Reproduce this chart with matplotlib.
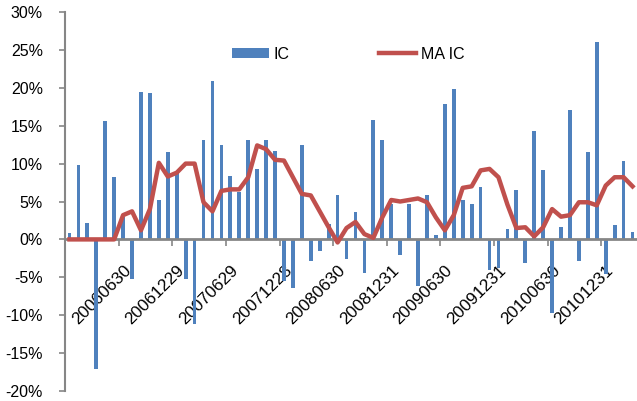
import matplotlib
matplotlib.use("Agg")
import matplotlib.pyplot as plt
from matplotlib.ticker import FixedLocator, FuncFormatter

plt.rcParams['font.family'] = ['Liberation Sans', 'DejaVu Sans']

ic_values = [0.8, 9.85, 2.1, -17.1, 15.6, 8.2, 3.0, -5.2, 19.5, 19.3,
             5.2, 11.5, 8.8, -5.2, -11.1, 13.1, 20.9, 12.4, 8.4, 6.3,
             13.1, 9.3, 13.1, 11.6, -5.5, -6.4, 12.4, -2.9, -1.5, 2.0,
             5.9, -2.6, 3.6, -4.4, 15.7, 13.1, 4.7, -2.1, 4.7, -6.2,
             5.9, 0.6, 17.8, 19.8, 5.2, 4.7, 6.9, -4.0, -3.8, 1.4,
             6.5, -3.1, 14.3, 9.1, -9.7, 1.7, 17.1, -2.9, 11.5, 26.1,
             -4.6, 1.9, 10.4, 1.0]
ma_values = [0, 0, 0, 0, 0, 0, 3.2, 3.7, 1.2, 4.0,
             10.1, 8.3, 8.8, 10.0, 10.0, 4.9, 3.7, 6.4, 6.6, 6.6,
             8.2, 12.4, 11.9, 10.5, 10.4, 8.2, 6.0, 5.8, 3.7, 1.6,
             -0.4, 1.5, 2.3, 0.7, 0.2, 2.9, 5.2, 5.0, 5.2, 5.4,
             4.9, 2.9, 1.2, 3.2, 6.8, 7.0, 9.1, 9.3, 8.2, 4.6,
             1.5, 1.6, 0.4, 1.6, 4.0, 3.0, 3.2, 4.9, 4.9, 4.5,
             7.1, 8.2, 8.2, 7.0]
tick_labels = ['20060630', '20061229', '20070629', '20071228', '20080630',
               '20081231', '20090630', '20091231', '20100630', '20101231']
label_index = [6, 12, 18, 24, 30, 36, 42, 48, 54, 60]

BLUE = '#4F81BD'
RED = '#C0504D'
GRAY = '#868686'
FS = 11.5

W, H = 637, 401
fig = plt.figure(figsize=(W / 100, H / 100), dpi=100)
ax = fig.add_axes([65 / W, (H - 391) / H, (637 - 65) / W, (391 - 12) / H])

x = list(range(len(ic_values)))
bars = ax.bar(x, ic_values, width=0.42, color=BLUE, label='IC', zorder=2)
line, = ax.plot(x, ma_values, color=RED, linewidth=3.2, label='MA IC', zorder=4,
                solid_joinstyle='round')

ax.set_xlim(-0.5, len(ic_values) - 0.5)
ax.set_ylim(-20, 30)

for s in ['top', 'right']:
    ax.spines[s].set_visible(False)
ax.spines['bottom'].set_position(('data', 0))
ax.spines['bottom'].set_color(GRAY)
ax.spines['bottom'].set_linewidth(2.0)
ax.spines['bottom'].set_zorder(3)
ax.spines['left'].set_color(GRAY)
ax.spines['left'].set_linewidth(1.5)

ax.set_yticks(range(-20, 31, 5))
ax.yaxis.set_major_formatter(FuncFormatter(lambda v, p: f"{int(round(v))}%"))
ax.tick_params(axis='y', length=4, width=1.2, color=GRAY, labelsize=FS, pad=12)

ax.set_xticks(label_index)
ax.set_xticklabels(tick_labels, rotation=45, ha='right', va='top',
                   rotation_mode='anchor', fontsize=12.3)
ax.tick_params(axis='x', which='major', length=0, pad=17)
ax.xaxis.set_minor_locator(FixedLocator([i - 0.5 for i in label_index]))
ax.tick_params(axis='x', which='minor', length=5, width=1.2, color=GRAY)

ax.legend([bars, line], ['IC', 'MA IC'], loc='center',
          bbox_to_anchor=(0.495, 0.889), ncol=2, frameon=False,
          fontsize=FS, handlelength=2.3, handleheight=0.55, handletextpad=0.3,
          columnspacing=5.6)

fig.savefig('out.png', dpi=100)
